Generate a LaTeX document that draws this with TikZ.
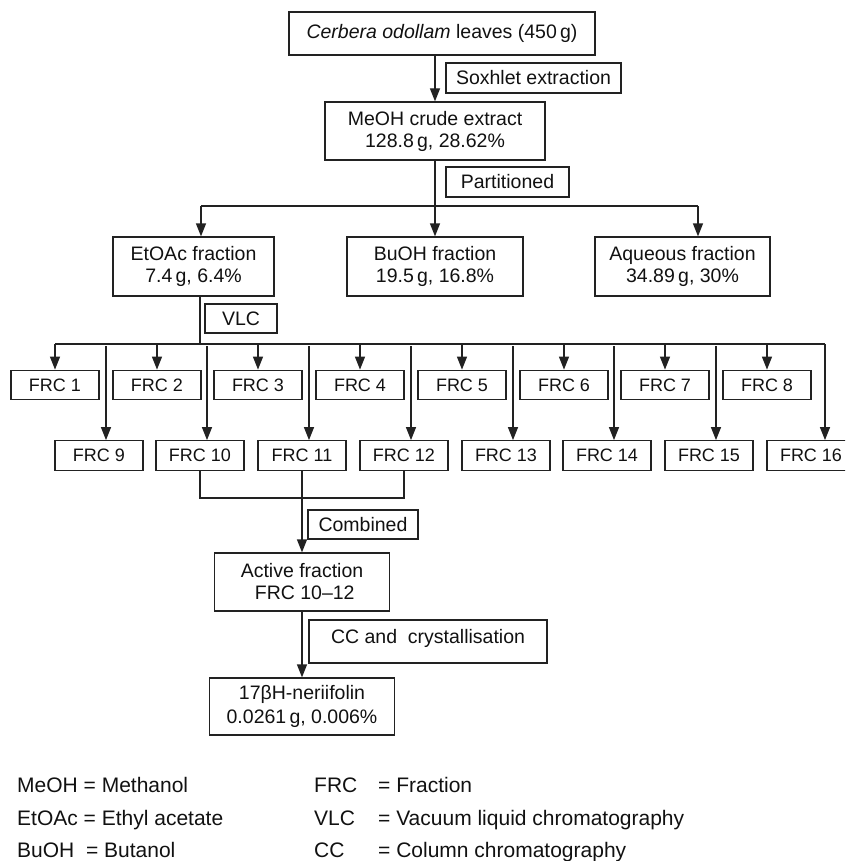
\documentclass[tikz,border=0pt]{standalone}
\usepackage{fontspec}
\setmainfont{Liberation Sans}
\usetikzlibrary{arrows.meta}
\definecolor{linec}{HTML}{222222}
\definecolor{txtc}{HTML}{111111}
\begin{document}
\begin{tikzpicture}[x=1pt,y=-1pt,
  box/.style={draw=linec, line width=1.3pt, rectangle, inner sep=0pt, align=center,
    font=\fontsize{19.5}{22}\selectfont, text=txtc},
  wh/.style 2 args={minimum width=#1pt, minimum height=#2pt},
  frc/.style={box, wh={88}{29.5}, font=\fontsize{18}{21}\selectfont},
  conn/.style={draw=linec, line width=1.3pt},
  arr/.style={conn, -{Triangle[width=10pt,length=13pt]}},
  leg/.style={anchor=base west, inner sep=0pt, font=\fontsize{21}{24}\selectfont, text=txtc}]
\clip (0,0) rectangle (845,861);
\useasboundingbox (0,0) rectangle (845,861);

% main chain
\node[box, wh={306}{43}] (top) at (442,33.5) {\textit{Cerbera odollam} leaves (450\,g)};
\node[box, wh={175}{30}] (sox) at (533.5,78) {Soxhlet extraction};
\node[box, wh={220}{58}] (meoh) at (435,131) {MeOH crude extract\\128.8\,g, 28.62\%};
\node[box, wh={123}{30}] (part) at (507.5,182) {Partitioned};
\node[box, wh={161}{59}] (etoac) at (193.5,266.5) {EtOAc fraction\\7.4\,g, 6.4\%};
\node[box, wh={176}{59}] (buoh) at (435,266.5) {BuOH fraction\\19.5\,g, 16.8\%};
\node[box, wh={175}{59}] (aq) at (682.5,266.5) {Aqueous fraction\\34.89\,g, 30\%};
\node[box, wh={72}{29}] (vlc) at (241,318.5) {VLC};

\draw[arr] (meoh.north |- top.south) -- (meoh.north);
\draw[arr] (meoh.south) -- (buoh.north);
\coordinate (pl) at (201,206);
\coordinate (pr) at (698,206);
\draw[conn] (pl) -- (pr);
\draw[arr] (pl) -- (pl |- etoac.north);
\draw[arr] (pr) -- (pr |- aq.north);

% VLC fractions
\coordinate (vl) at (200,344);
\coordinate (hl) at (55,344);
\coordinate (hr) at (825,344);
\draw[conn] (vl |- etoac.south) -- (vl);
\draw[conn] (hl) -- (hr);

\foreach \i/\x in {1/55,2/157,3/258,4/360,5/462,6/564,7/665,8/767}
  \node[frc] (f\i) at (\x,385) {FRC \i};
\foreach \i/\x in {9/99,10/200,11/302,12/404,13/506,14/607,15/709,16/811}
  \node[frc] (f\i) at (\x,455.5) {FRC \i};

\foreach \i in {1,...,8}
  \draw[arr] (f\i.north |- hl) -- (f\i.north);
\foreach \i in {9,...,15}{
  \path ([xshift=7pt]f\i.north) coordinate (t\i);
  \draw[arr] (t\i |- hl) ++(0,2) -- (t\i);
}
\draw[arr] (hr) -- (hr |- f16.north);

% combination
\node[box, wh={110}{29}] (comb) at (363,524.5) {Combined};
\node[box, wh={175}{58}] (act) at (302,582) {Active fraction\\\ FRC 10--12};
\coordinate (cbl) at (200,498);
\draw[conn] (f10.south) -- (f10.south |- cbl) -- (f12.south |- cbl) -- (f12.south);
\draw[arr] (f11.south) -- (act.north);

\node[box, wh={238}{43}, text height=15.5pt, text depth=12.5pt] (cc) at (428,641.5) {CC and\ \ crystallisation};
\node[box, wh={185}{57}, font=\fontsize{19.5}{24}\selectfont] (neri) at (302,706.5) {17βH-neriifolin\\0.0261\,g, 0.006\%};
\draw[arr] (act.south) -- (neri.north);

% legend
\node[leg] (l1) at (17,792) {MeOH = Methanol};
\node[leg] (l2) at (17,825) {EtOAc = Ethyl acetate};
\node[leg] (l3) at (17,857) {BuOH\ \ = Butanol};
\node[leg] (r1) at (314,792) {\makebox[64pt][l]{FRC}= Fraction};
\node[leg] (r2) at (314,825) {\makebox[64pt][l]{VLC}= Vacuum liquid chromatography};
\node[leg] (r3) at (314,857) {\makebox[64pt][l]{CC}= Column chromatography};
\end{tikzpicture}
\end{document}
